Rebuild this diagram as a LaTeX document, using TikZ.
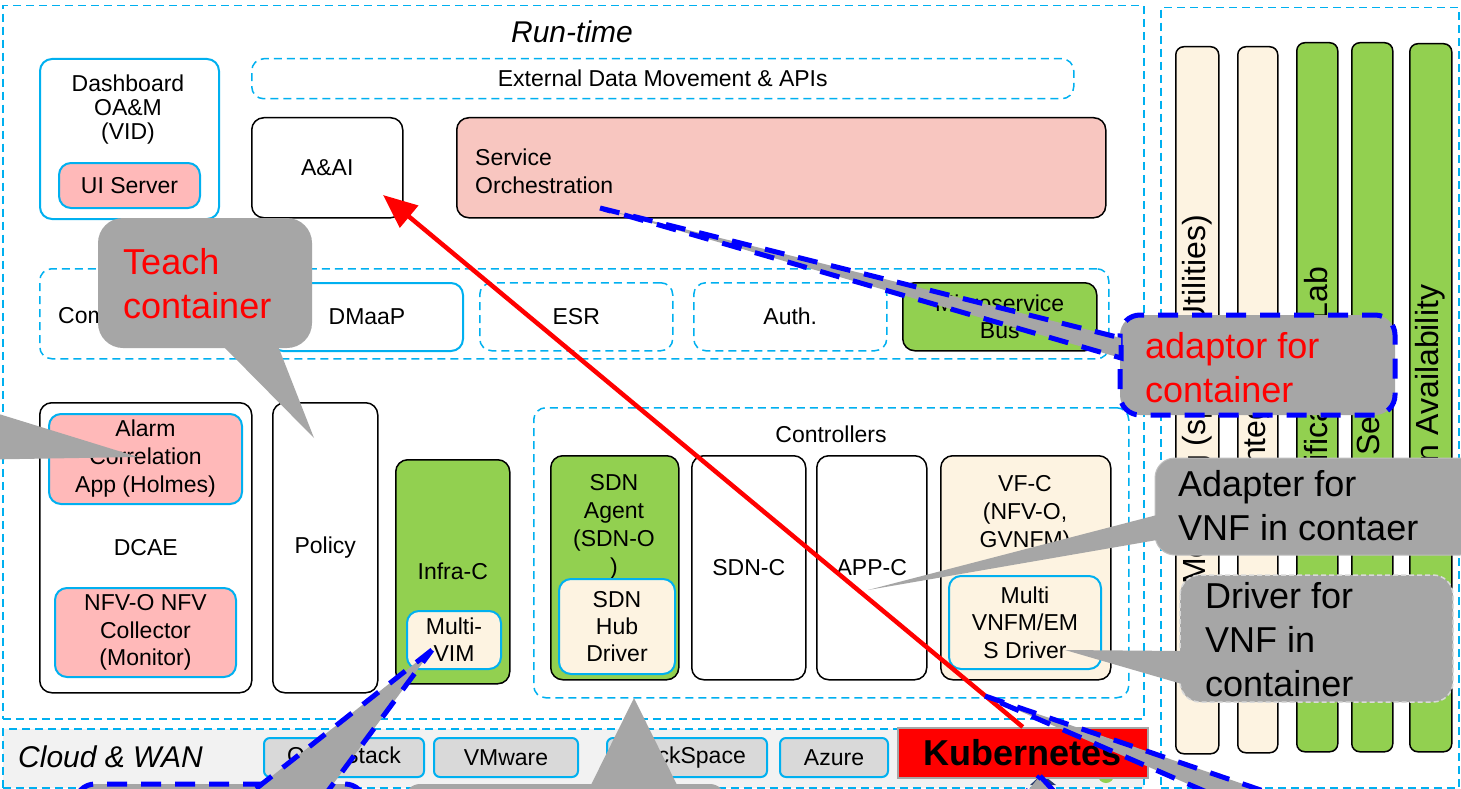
\documentclass[tikz,border=0pt]{standalone}
\usepackage{fontspec}
\setmainfont{Liberation Sans}
\usetikzlibrary{arrows.meta, positioning}
\definecolor{onapcyan}{RGB}{0,176,240}
\definecolor{onapgreen}{RGB}{146,208,80}
\definecolor{onappink}{RGB}{255,185,185}
\definecolor{onapsalmon}{RGB}{248,198,192}
\definecolor{onapcream}{RGB}{253,243,225}
\definecolor{calloutgray}{RGB}{166,166,166}
\definecolor{cloudbg}{RGB}{242,242,242}
\definecolor{cloudbox}{RGB}{217,217,217}
\definecolor{logonavy}{RGB}{40,60,110}

\begin{document}
\begin{tikzpicture}[x=1pt, y=-1pt,
    every node/.style={font=\fontsize{23}{28}\selectfont, inner sep=0pt},
    wh/.style 2 args={minimum width=#1pt, minimum height=#2pt},
    blk/.style={rectangle, anchor=north west, align=center},
    box/.style={blk, draw=black, line width=1.5pt, rounded corners=12pt, fill=white},
    cbox/.style={blk, draw=onapcyan, line width=2pt, rounded corners=12pt, fill=white},
    dbox/.style={blk, draw=onapcyan, line width=1.5pt, dash pattern=on 8pt off 5pt, rounded corners=12pt},
    cloudb/.style={blk, draw=onapcyan, line width=2pt, rounded corners=6pt, fill=cloudbox},
    colbox/.style={blk, draw=black, line width=1.5pt, rounded corners=8pt},
    coltext/.style={rotate=90, anchor=west, font=\fontsize{32}{36}\selectfont},
    callout/.style={fill=calloutgray},
    blueedge/.style={draw=blue, line width=5pt, dash pattern=on 20pt off 14pt},
    calltext/.style={anchor=west, align=left, font=\fontsize{36}{44}\selectfont},
    redarrow/.style={-{Triangle[length=34pt, width=28pt]}, red, line width=4.5pt}
]
    \useasboundingbox (0,0) rectangle (1461,789);
    \clip (0,0) rectangle (1461,789);
    \fill[white] (0,0) rectangle (1461,789);

    % Run-time frame
    \node[dbox, sharp corners, wh={1141}{713}] (runtime) at (2,5) {};
    \node[font=\itshape\fontsize{30}{34}\selectfont] (runtimelbl) at (572,32) {Run-time};

    % Top row
    \node[cbox, wh={179}{160}] (dashboard) at (39,58) {};
    \node[font=\fontsize{23}{24}\selectfont, align=center] (dashlbl) at (128,110) {Dashboard\\OA\&M\\(VID)};
    \node[cbox, fill=onappink, wh={141}{45}] (uiserver) at (58,162) {UI Server};
    \node[dbox, wh={822}{40}] (extdata) at (251,58) {External Data Movement \& APIs};
    \node[box, wh={151}{100}] (aai) at (251,117) {A\&AI};
    \node[box, fill=onapsalmon, wh={649}{100}] (so) at (456,117) {};
    \node[anchor=west, align=left] (solbl) at (475,171) {Service\\Orchestration};

    % Common services row
    \node[dbox, wh={1069}{90}] (common) at (39,268) {};
    \node[anchor=west] (commonlbl) at (58,316) {Com};
    \node[cbox, wh={192}{68}] (dmaap) at (270,282) {DMaaP};
    \node[dbox, wh={193}{68}] (esr) at (479,282) {ESR};
    \node[dbox, wh={193}{68}] (auth) at (693,282) {Auth.};
    \node[box, fill=onapgreen, wh={194}{68}, font=\fontsize{23}{27}\selectfont] (msb) at (902,282) {Microservice\\Bus};

    % DCAE, Policy, Infra-C
    \node[box, wh={212}{290}] (dcae) at (39,402) {DCAE};
    \node[cbox, fill=onappink, wh={193}{90}] (holmes) at (48,413) {Alarm\\Correlation\\App (Holmes)};
    \node[cbox, fill=onappink, wh={181}{89}, font=\fontsize{23}{27.5}\selectfont] (collector) at (54,587) {NFV-O NFV\\Collector\\(Monitor)};
    \node[box, wh={105}{290}] (policy) at (272,402) {Policy};
    \node[box, fill=onapgreen, wh={114}{224}] (infrac) at (395,459) {Infra-C};
    \node[cbox, fill=onapcream, wh={94}{58}, font=\fontsize{23}{27}\selectfont] (multivim) at (406,610) {Multi-\\VIM};

    % Controllers
    \node[dbox, wh={595}{290}] (controllers) at (533,407) {};
    \node (ctrllbl) at (831,434) {Controllers};
    \node[box, fill=onapgreen, wh={128}{224}] (sdnagent) at (550,455) {};
    \node[align=center] (sdnagentlbl) at (614,527) {SDN\\Agent\\(SDN-O\\)};
    \node[cbox, fill=onapcream, wh={116}{95}, font=\fontsize{23}{27}\selectfont] (sdnhub) at (558,578) {SDN\\Hub\\Driver};
    \node[box, wh={114}{224}] (sdnc) at (691,455) {SDN-C};
    \node[box, wh={110}{224}] (appc) at (816,455) {APP-C};
    \node[box, fill=onapcream, wh={170}{224}] (vfc) at (940,455) {};
    \node[align=center] (vfclbl) at (1025,514) {VF-C\\(NFV-O,\\GVNFM)};
    \node[cbox, fill=onapcream, wh={152}{93}, font=\fontsize{23}{27.5}\selectfont] (vnfm) at (948,575) {Multi\\VNFM/EM\\S Driver};

    % Cloud & WAN
    \node[dbox, sharp corners, fill=cloudbg, wh={1141}{59}] (cloud) at (2,728) {};
    \node[anchor=west, font=\itshape\fontsize{30}{34}\selectfont] (cloudlbl) at (18,757) {Cloud \& WAN};
    \node[cloudb, wh={160}{39}] (openstack) at (263,737) {OpenStack};
    \node[cloudb, wh={144}{39}] (vmware) at (433,737) {VMware};
    \node[cloudb, wh={160}{39}] (rackspace) at (606,737) {RackSpace};
    \node[cloudb, wh={108}{39}] (azure) at (779,737) {Azure};
    \fill[onapgreen] (1106,775) circle (8);
    \fill[logonavy] (1030,785) -- (1042,774) -- (1056,785) -- cycle;
    \node[blk, fill=red, draw=black!35, line width=1.5pt, wh={250}{50}, font=\fontsize{36}{40}\selectfont\bfseries] (kube) at (897,727) {Kubernetes};

    % Right-hand columns
    \node[dbox, sharp corners, wh={298}{780}] (project) at (1160,7) {};
    \node[colbox, fill=onapcream, wh={43}{707}] (modeling) at (1175,46) {};
    \node[colbox, fill=onapcream, wh={40}{706}] (integration) at (1237,46) {};
    \node[colbox, fill=onapgreen, wh={41}{709}] (certlab) at (1296,42) {};
    \node[colbox, fill=onapgreen, wh={41}{709}] (security) at (1351,42) {};
    \node[colbox, fill=onapgreen, wh={42}{708}] (availability) at (1409,43) {};
    \node[coltext] (modelingtxt) at (1197,585) {Modeling (spec \& Utilities)};
    \node[coltext] (integrationtxt) at (1257,474) {Integration};
    \node[coltext] (certlabtxt) at (1316,522) {Certification\hspace{24pt} Lab};
    \node[coltext] (securitytxt) at (1371,456) {Security};
    \node[coltext] (availabilitytxt) at (1430,546) {Region Availability};

    % Kubernetes -> A&AI
    \coordinate (aaitip) at (383,195);
    \draw[redarrow] (kube.north) -- (aaitip);

    % Teach container callout
    \fill[callout, rounded corners=25pt] (98,218) rectangle (312,348);
    \fill[callout] (223,346) -- (314,438) -- (278,346) -- cycle;
    \node[calltext, red] (teachtxt) at (123,284) {Teach\\container};

    % callout from the left edge
    \fill[callout] (-40,402) -- (138,457) -- (-40,460) -- cycle;

    % adaptor for container callout
    \filldraw[callout, blueedge, rounded corners=20pt] (1120,315) rectangle (1395,415);
    \filldraw[callout, blueedge] (600,208) -- (1121,338) -- (1121,358) -- cycle;
    \node[calltext, red] (adaptortxt) at (1145,368) {adaptor for\\container};

    % Adapter for VNF callout
    \filldraw[callout, draw=black!25, line width=1pt, rounded corners=20pt] (1155,458) rectangle (1480,555);
    \fill[callout] (868,590) -- (1157,515) -- (1157,540) -- cycle;
    \node[calltext] (adaptertxt) at (1178,506) {Adapter for\\VNF in contaer};

    % Driver for VNF callout
    \filldraw[callout, draw=black!15, line width=1.5pt, dash pattern=on 5pt off 3pt, rounded corners=20pt] (1180,575) rectangle (1453,702);
    \fill[callout] (1065,650) -- (1182,651) -- (1182,684) -- cycle;
    \node[calltext] (drivertxt) at (1205,640) {Driver for\\VNF in\\container};

    % callouts along the bottom edge
    \filldraw[callout, blueedge, rounded corners=20pt] (75,784) rectangle (365,900);
    \filldraw[callout, blueedge] (432,650) -- (248,795) -- (325,795) -- cycle;
    \fill[callout, rounded corners=15pt] (405,784) rectangle (725,900);
    \fill[callout] (634,698) -- (586,795) -- (682,795) -- cycle;
    \filldraw[callout, blueedge] (985,696) -- (1290,800) -- (1225,800) -- cycle;
    \filldraw[callout, blueedge] (1040,776) -- (1062,800) -- (1020,800) -- cycle;
\end{tikzpicture}
\end{document}
